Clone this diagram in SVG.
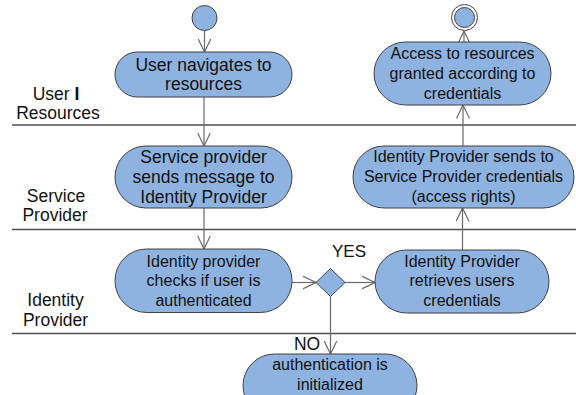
<svg xmlns="http://www.w3.org/2000/svg" width="576" height="395" viewBox="0 0 576 395">
<style>
.node{fill:#8FB3E0;stroke:#404040;stroke-width:1}
.t{font-family:"Liberation Sans",Arial,sans-serif;font-size:16px;fill:#111;text-anchor:middle}
.big{font-size:17.5px}
.lane{stroke:#505050;stroke-width:1.3}
.edge{stroke:#6a6a6a;stroke-width:1.2;fill:none}
</style>
<defs>
<marker id="arr" markerUnits="userSpaceOnUse" viewBox="0 0 14 14" refX="13.5" refY="7" markerWidth="14" markerHeight="14" orient="auto">
<path d="M0,0.5 L13.5,7 L0,13.5" fill="none" stroke="#6a6a6a" stroke-width="1.2"/>
</marker>
</defs>
<g id="lanes">
<line class="lane" x1="12" y1="125" x2="576" y2="125"/>
<line class="lane" x1="12" y1="229.5" x2="576" y2="229.5"/>
<line class="lane" x1="12" y1="333.5" x2="576" y2="333.5"/>
<text class="t big" x="56" y="100">User <tspan font-weight="bold">I</tspan></text>
<text class="t big" x="58" y="119">Resources</text>
<text class="t big" x="56" y="201.5">Service</text>
<text class="t big" x="55" y="221">Provider</text>
<text class="t big" x="55.5" y="306">Identity</text>
<text class="t big" x="55.5" y="326">Provider</text>
</g>
<g id="connectors">
<line class="edge" x1="204.5" y1="30.5" x2="204.5" y2="52" marker-end="url(#arr)"/>
<line class="edge" x1="204" y1="97" x2="204" y2="146" marker-end="url(#arr)"/>
<line class="edge" x1="204" y1="208" x2="204" y2="249" marker-end="url(#arr)"/>
<line class="edge" x1="292" y1="282.5" x2="316" y2="282.5" marker-end="url(#arr)"/>
<line class="edge" x1="345" y1="282.5" x2="375" y2="282.5" marker-end="url(#arr)"/>
<line class="edge" x1="330.5" y1="296.5" x2="330.5" y2="354" marker-end="url(#arr)"/>
<line class="edge" x1="462.5" y1="250" x2="462.5" y2="208" marker-end="url(#arr)"/>
<line class="edge" x1="463" y1="146" x2="463" y2="105" marker-end="url(#arr)"/>
<line class="edge" x1="464" y1="42" x2="464" y2="31" marker-end="url(#arr)"/>
<text class="t" x="349" y="256.5" style="font-size:17px">YES</text>
<text class="t" x="307" y="349.5" style="font-size:17.5px">NO</text>
</g>
<g id="start">
<circle class="node" cx="204.5" cy="18" r="12.5"/>
</g>
<g id="end">
<circle cx="464.5" cy="17.5" r="13" fill="#fff" stroke="#404040" stroke-width="1"/>
<circle class="node" cx="464.5" cy="17.5" r="10"/>
</g>
<g id="n1">
<rect class="node" x="115" y="52" width="177" height="45" rx="22.5"/>
<text class="t big" x="203.5" y="71">User navigates to</text>
<text class="t big" x="203.5" y="90">resources</text>
</g>
<g id="n2">
<rect class="node" x="115" y="146" width="177" height="62" rx="31"/>
<text class="t big" x="203.5" y="162.5">Service provider</text>
<text class="t big" x="203.5" y="183">sends message to</text>
<text class="t big" x="203.5" y="202.5">Identity Provider</text>
</g>
<g id="n3">
<rect class="node" x="115" y="249" width="177" height="63.5" rx="31.5"/>
<text class="t" x="203.5" y="266.5">Identity provider</text>
<text class="t" x="203.5" y="286">checks if user is</text>
<text class="t" x="203.5" y="305.5">authenticated</text>
</g>
<g id="decision">
<polygon class="node" points="330.5,268.5 345,282.5 330.5,296.5 316,282.5"/>
</g>
<g id="n4">
<rect class="node" x="375" y="250" width="174" height="63" rx="31.5"/>
<text class="t" x="462" y="266.5">Identity Provider</text>
<text class="t" x="462" y="286">retrieves users</text>
<text class="t" x="462" y="305.5">credentials</text>
</g>
<g id="n5">
<rect class="node" x="353" y="146" width="221" height="62" rx="31"/>
<text class="t" x="463.5" y="162">Identity Provider sends to</text>
<text class="t" x="463.5" y="182">Service Provider credentials</text>
<text class="t" x="463.5" y="202">(access rights)</text>
</g>
<g id="n6">
<rect class="node" x="374" y="42" width="177" height="63" rx="31.5"/>
<text class="t" x="462.5" y="59">Access to resources</text>
<text class="t" x="462.5" y="79">granted according to</text>
<text class="t" x="462.5" y="98.5">credentials</text>
</g>
<g id="n7">
<rect class="node" x="243" y="354" width="174" height="63" rx="31.5"/>
<text class="t" x="330" y="370">authentication is</text>
<text class="t" x="330" y="389.5">initialized</text>
</g>
</svg>
